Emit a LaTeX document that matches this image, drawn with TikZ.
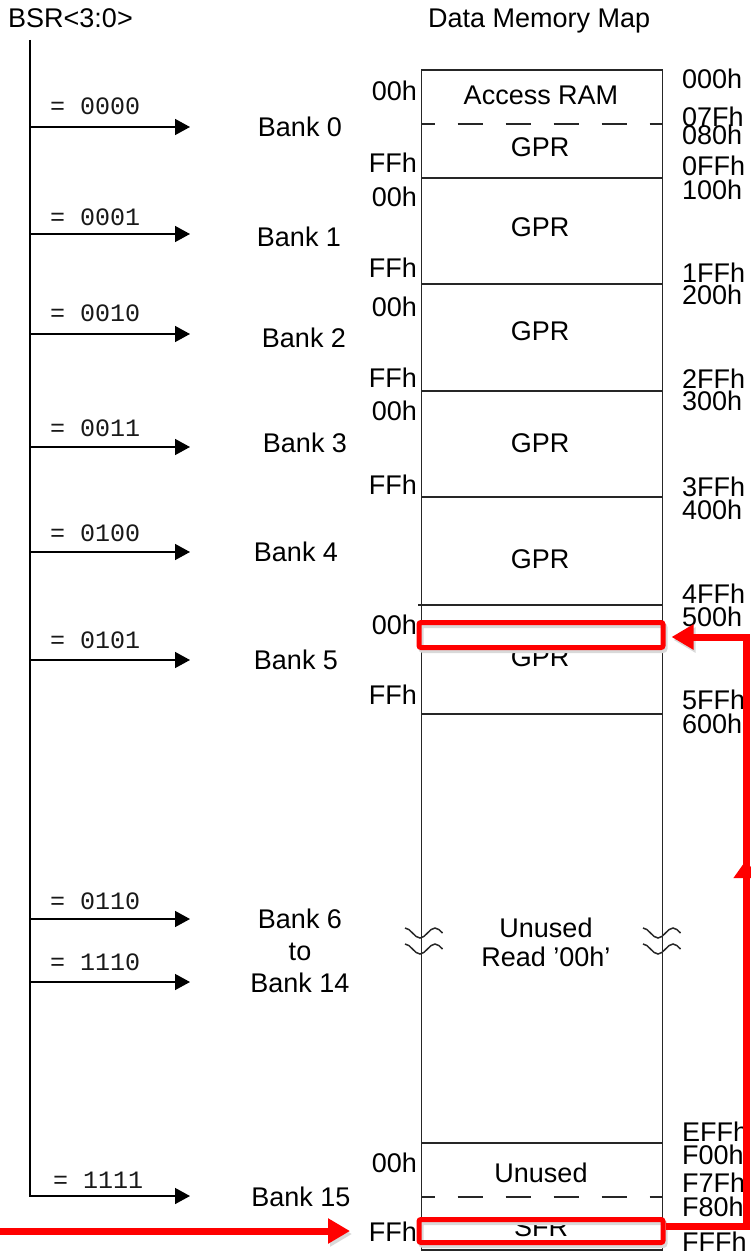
\documentclass[tikz,border=0pt]{standalone}
\usepackage{fontspec}
\setmainfont{Liberation Sans}
\setmonofont{Liberation Mono}
\usetikzlibrary{arrows.meta,decorations.markings}

\tikzset{
  lbl/.style={inner sep=0pt, font=\fontsize{27}{32}\selectfont},
  codelbl/.style={inner sep=0pt, anchor=west, text=black!90, font=\fontsize{25}{30}\selectfont\ttfamily},
  bsrarrow/.style={line width=1.5pt, -{Triangle[length=15pt,width=16pt]}},
  memline/.style={line width=1.5pt, black!85},
  memdash/.style={memline, dash pattern=on 25pt off 23pt, dash phase=12pt},
  redshadow/.style={preaction={draw=black!15, transform canvas={shift={(2pt,-3pt)}}}},
  redbox/.style={draw=red, line width=5pt, rounded corners=2pt, inner sep=0pt, minimum width=244pt, redshadow},
  redpath/.style={draw=red, line width=7pt, redshadow, -{Triangle[length=22pt,width=24pt]}},
  midtip/.style={postaction={decorate, decoration={markings,
      mark=at position 0.6 with {\arrow{Triangle[length=18pt,width=24pt]}}}}},
}

\begin{document}
\begin{tikzpicture}[x=1pt, y=-1pt]
\useasboundingbox (0,0) rectangle (751,1260);

% titles
\node[lbl, anchor=base west] (bsr) at (8,28) {BSR<3:0>};
\node[lbl, anchor=base west] (dmm) at (428,28) {Data Memory Map};

% BSR line and bank select arrows
\coordinate (bsrtop) at (30,40);
\foreach \ay/\cy/\code [count=\i] in {127/106/0000, 234/217/0001, 334/313/0010, 447/428/0011,
    552/533/0100, 660/640/0101, 919/901/0110, 982/962/1110} {
  \coordinate (s\i) at (30,\ay);
  \coordinate (e\i) at (190,\ay);
  \draw[bsrarrow] (s\i) -- (e\i);
  \node[codelbl] (code\i) at (50,\cy) {= \code};
}
\coordinate (e9) at (190,1196);
\draw[bsrarrow] (bsrtop) |- (e9);
\node[codelbl] (code9) at (53,1180) {= 1111};

% bank names
\node[lbl] (bank0) at (300,127) {Bank 0};
\node[lbl] (bank1) at (299,237) {Bank 1};
\node[lbl] (bank2) at (304,338) {Bank 2};
\node[lbl] (bank3) at (305,443) {Bank 3};
\node[lbl] (bank4) at (296,552) {Bank 4};
\node[lbl] (bank5) at (296,660) {Bank 5};
\node[lbl, align=center] (bank6) at (300,951) {Bank 6\\to\\Bank 14};
\node[lbl] (bank15) at (301,1197) {Bank 15};

% memory map
\draw[memline] (421.5,70) rectangle (662.5,1250);
\draw[memdash] (421.5,124) -- (662.5,124);
\draw[memline] (421.5,178) -- (662.5,178);
\draw[memline] (421.5,284) -- (662.5,284);
\draw[memline] (421.5,391) -- (662.5,391);
\draw[memline] (421.5,497) -- (662.5,497);
\draw[memline] (418,605) -- (662.5,605);
\draw[memline] (421.5,714) -- (662.5,714);
\draw[memline] (421.5,1143) -- (662.5,1143);
\draw[memdash] (421.5,1197) -- (662.5,1197);

% break marks
\foreach \dx in {0,238}
  \foreach \dy in {0,16}
    \draw[memline] (405+\dx,928+\dy) cos (412.5+\dx,933+\dy) sin (420+\dx,938+\dy)
      cos (427.5+\dx,933+\dy) sin (435+\dx,928+\dy) cos (442.5+\dx,933+\dy);

% region names
\node[lbl] (acc) at (541,95) {Access RAM};
\node[lbl] (gpr0) at (540,147) {GPR};
\node[lbl] (gpr1) at (540,227) {GPR};
\node[lbl] (gpr2) at (540,331) {GPR};
\node[lbl] (gpr3) at (540,443) {GPR};
\node[lbl] (gpr4) at (540,559) {GPR};
\node[lbl] (gpr5) at (540,657) {GPR};
\node[lbl, align=center, font=\fontsize{27}{29}\selectfont] (unused) at (546,942) {Unused\\Read '00h'};
\node[lbl] (unused15) at (541,1173) {Unused};
\node[lbl] (sfr) at (541,1227) {SFR};

% bank offsets
\foreach \ly/\lt [count=\i] in {91/00h, 163/FFh, 197/00h, 268/FFh, 307/00h, 378/FFh, 411/00h, 485/FFh,
    625/00h, 695/FFh, 1163/00h, 1232/FFh}
  \node[lbl, anchor=east] (off\i) at (417,\ly) {\lt};

% addresses
\foreach \ry/\rt [count=\i] in {79/000h, 117/07Fh, 135/080h, 166/0FFh, 190/100h, 273/1FFh, 295/200h,
    379/2FFh, 401/300h, 487/3FFh, 510/400h, 594/4FFh, 617/500h, 700/5FFh, 724/600h,
    1132/EFFh, 1155/F00h, 1183/F7Fh, 1207/F80h, 1242/FFFh}
  \node[lbl, anchor=west] (addr\i) at (682,\ry) {\rt};

% red highlights
\node[redbox, minimum height=25pt] (selgpr) at (541,635) {};
\node[redbox, minimum height=23pt] (selsfr) at (541,1231) {};
\coordinate (rtop) at (746,637);
\draw[redpath, midtip] ([yshift=5pt]selsfr.east) -| (rtop) -- ([xshift=6pt]selgpr.east |- rtop);
\coordinate (redin) at (0,1231);
\coordinate (redtip) at (350,1231);
\draw[redpath] (redin) -- (redtip);

\end{tikzpicture}
\end{document}
